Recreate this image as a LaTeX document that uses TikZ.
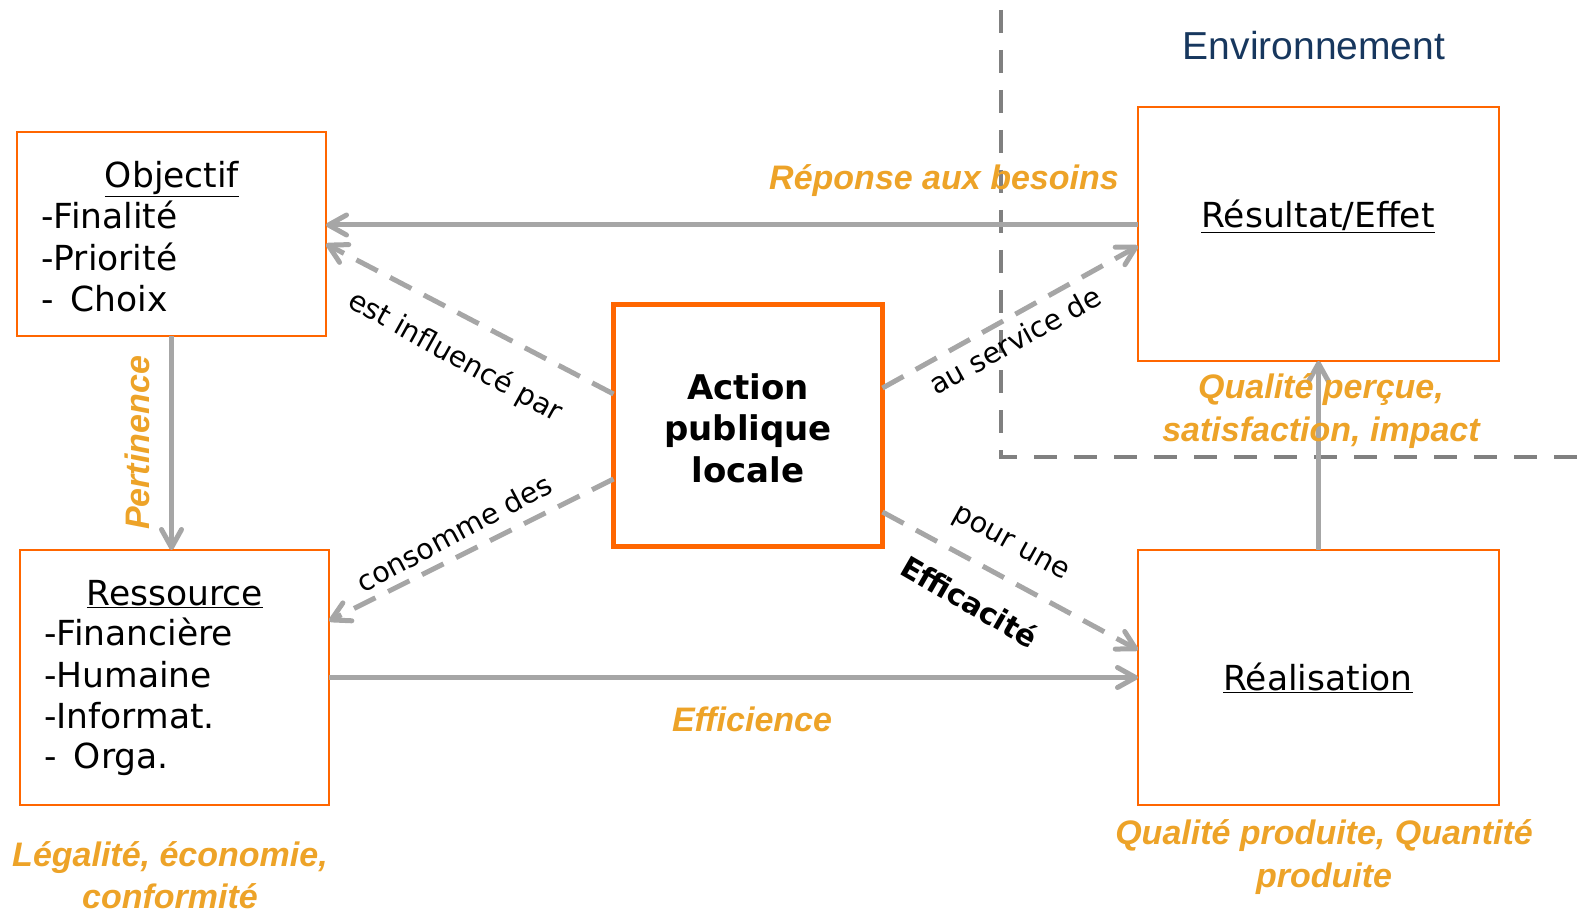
\documentclass[tikz,border=0pt]{standalone}
\usepackage{fontspec}
\setmainfont{DejaVu Sans}
\newfontfamily\arialf{Liberation Sans}
\usetikzlibrary{arrows.meta,calc}
\definecolor{boxorange}{RGB}{255,102,0}
\definecolor{laborange}{RGB}{237,163,40}
\definecolor{arrgray}{RGB}{166,166,166}
\definecolor{envgray}{RGB}{128,128,128}
\definecolor{envnavy}{RGB}{23,55,94}
\begin{document}
\begin{tikzpicture}[x=1pt,y=-1pt,
  box/.style={draw=boxorange, line width=2.5pt, inner sep=0pt, outer sep=0pt, rectangle},
  actbox/.style={box, line width=5pt},
  txt/.style={inner sep=0pt, font=\fontsize{34.5}{41}\selectfont},
  acttxt/.style={inner sep=0pt, align=center, font=\fontsize{34}{41.5}\selectfont\bfseries},
  lab/.style={inner sep=0pt, align=center, text=laborange, font=\fontsize{34}{42.5}\selectfont\arialf\bfseries\itshape},
  conn/.style={inner sep=0pt, font=\fontsize{28.5}{34}\selectfont},
  tipstyle/.style={-{Straight Barb[length=18pt,width=20pt,round]}},
  solidarr/.style={draw=arrgray, line width=5pt, tipstyle},
  dasharr/.style={draw=arrgray, line width=5pt, dash pattern=on 24pt off 14pt, tipstyle},
  envline/.style={draw=envgray, line width=4.5pt, dash pattern=on 23pt off 17pt}
]
\useasboundingbox (0,0) rectangle (1591,912);

% boxes
\node[box, minimum width=309pt, minimum height=204pt] (obj) at (171.5,234) {};
\node[box, minimum width=309pt, minimum height=255pt] (res) at (174.5,677.5) {};
\node[actbox, minimum width=269pt, minimum height=242pt] (act) at (748,425.5) {};
\node[box, minimum width=361pt, minimum height=254pt] (rsl) at (1318.5,234) {};
\node[box, minimum width=361pt, minimum height=255pt] (rea) at (1318.5,677.5) {};

% environment boundary
\coordinate (e1) at (1001,10);
\coordinate (e2) at (1001,457);
\coordinate (e3) at (1600,457);
\draw[envline] (e1) -- (e2) -- (e3);

% solid arrows
\draw[solidarr] ([yshift=9pt]rsl.west) -- ([yshift=9pt]obj.east);
\draw[solidarr] (obj.south) -- (obj.south |- res.north);
\draw[solidarr] (res.east) -- (res.east -| rea.west);
\draw[solidarr] (rea.north) -- (rea.north |- rsl.south);

% dashed arrows
\draw[dasharr] ([yshift=31.5pt]act.west) -- ([yshift=-10pt]obj.east);
\draw[dasharr] ([yshift=-53.5pt]act.west) -- ([yshift=56.5pt]res.east);
\draw[dasharr] ([yshift=37.5pt]act.east) -- ([yshift=-12pt]rsl.west);
\draw[dasharr] ([yshift=-86.5pt]act.east) -- ([yshift=27.5pt]rea.west);

% box texts
\node[txt, anchor=base] (objt) at (172,188) {\underline{Objectif}};
\node[txt, anchor=base west] (obj1) at (41,228.5) {-Finalité};
\node[txt, anchor=base west] (obj2) at (41,270) {-Priorité};
\node[txt, anchor=base west] (obj3) at (41,311) {-\hspace{0.5em}Choix};

\node[txt, anchor=base] (rest) at (175,605) {\underline{Ressource}};
\node[txt, anchor=base west] (res1) at (44,645.5) {-Financière};
\node[txt, anchor=base west] (res2) at (44,687) {-Humaine};
\node[txt, anchor=base west] (res3) at (44,728) {-Informat.};
\node[txt, anchor=base west] (res4) at (44,768) {-\hspace{0.5em}Orga.};

\node[txt, anchor=base] (rslt) at (1318,227.5) {\underline{Résultat/Effet}};
\node[txt, anchor=base] (reat) at (1318,690) {\underline{Réalisation}};

\node[acttxt] (actt) at (748,428) {Action\\publique\\locale};

% environment title
\node[inner sep=0pt, text=envnavy, font=\fontsize{39}{46}\selectfont\arialf] (env) at (1314,46) {Environnement};

% orange labels
\node[lab] (l1) at (944,181) {Réponse aux besoins};
\node[lab, rotate=90] (l2) at (137,443) {Pertinence};
\node[lab] (l3) at (752,719) {Efficience};
\node[lab] (l4) at (170,875) {Légalité, économie,\\conformité};
\node[lab] (l5) at (1321,411) {Qualité perçue,\\satisfaction, impact};
\node[lab] (l6) at (1324,857) {Qualité produite, Quantité\\produite};

% connector labels
\node[conn, rotate=-29] (c1) at (455,357) {est influencé par};
\node[conn, rotate=28] (c2) at (454,533) {consomme des};
\node[conn, rotate=29] (c3) at (1015,340) {au service de};
\node[conn, rotate=-29] (c4) at (1010,545) {pour une};
\node[conn, rotate=-30, font=\fontsize{29.5}{34}\selectfont\bfseries] (c5) at (970,601) {Efficacité};
\end{tikzpicture}
\end{document}
